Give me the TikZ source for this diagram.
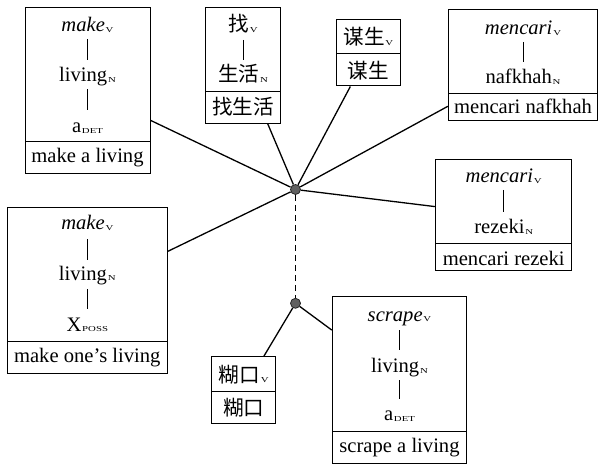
\documentclass[tikz,border=0pt]{standalone}
\usepackage{fontspec}
\usepackage{graphicx}
\setmainfont{Liberation Serif}
\newfontfamily\cjk{Noto Sans CJK SC}
\usetikzlibrary{fit}
\newcommand\lsb[1]{\kern0.4pt\raisebox{-0.4pt}{\scalebox{1}[0.7]{\fontsize{5.4}{6}\selectfont #1}}}
\begin{document}
\begin{tikzpicture}[x=0.5pt,y=-0.5pt,
  box/.style={draw, line width=0.5pt, inner sep=0pt},
  txt/.style={inner sep=0pt, anchor=base, font=\fontsize{10.3}{12}\selectfont},
  hub/.style={circle, draw=black!85, fill=black!62, line width=0.4pt, minimum size=5pt, inner sep=0pt},
  link/.style={line width=0.65pt},
  bar/.style={line width=0.5pt},
  div/.style={line width=0.5pt}]
\useasboundingbox (0,0) rectangle (598,464);

% Box 1: make a living
\node[box, fit={(25,7.3) (150,173.3)}] (b1) {};
\draw[div] (25,141.3) -- (150,141.3);
\node[txt] (b1v) at (87.5,31.7) {\textit{make}\lsb{V}};
\draw[bar] (87.5,39.3) -- (87.5,60);
\node[txt] (b1n) at (87.5,81.7) {living\lsb{N}};
\draw[bar] (87.5,89.3) -- (87.5,110);
\node[txt] (b1d) at (87.5,132.7) {a\lsb{DET}};
\node[txt] (b1t) at (87.5,163) {make a living};

% Box 2: 找生活
\node[box, fit={(205.5,7.3) (280.5,123.3)}] (b2) {};
\draw[div] (205.5,91.7) -- (280.5,91.7);
\node[txt] (b2v) at (243,32) {{\cjk 找}\lsb{V}};
\draw[bar] (243,40) -- (243,60);
\node[txt] (b2n) at (243,82) {{\cjk 生活}\lsb{N}};
\node[txt] (b2t) at (243,115) {\cjk 找生活};

% Box 3: 谋生
\node[box, fit={(336.7,19.3) (400,86)}] (b3) {};
\draw[div] (336.7,54) -- (400,54);
\node[txt] (b3v) at (368.3,45) {{\cjk 谋生}\lsb{V}};
\node[txt] (b3t) at (368.3,78.5) {\cjk 谋生};

% Box 4: mencari nafkhah
\node[box, fit={(448.3,10) (597.5,120.7)}] (b4) {};
\draw[div] (448.3,94) -- (597.5,94);
\node[txt] (b4v) at (523,34.3) {\textit{mencari}\lsb{V}};
\draw[bar] (523,42) -- (523,62);
\node[txt] (b4n) at (523,83.3) {nafkhah\lsb{N}};
\node[txt] (b4t) at (523,113.3) {mencari nafkhah};

% Box 5: mencari rezeki
\node[box, fit={(435.7,159.3) (571.7,270.7)}] (b5) {};
\draw[div] (435.7,244) -- (571.7,244);
\node[txt] (b5v) at (503.7,182.3) {\textit{mencari}\lsb{V}};
\draw[bar] (503.7,190) -- (503.7,212);
\node[txt] (b5n) at (503.7,233.3) {rezeki\lsb{N}};
\node[txt] (b5t) at (503.7,265) {mencari rezeki};

% Box 6: make one's living
\node[box, fit={(7.3,207.3) (167.3,373.3)}] (b6) {};
\draw[div] (7.3,341) -- (167.3,341);
\node[txt] (b6v) at (87.3,230) {\textit{make}\lsb{V}};
\draw[bar] (87.3,239.3) -- (87.3,260);
\node[txt] (b6n) at (87.3,280) {living\lsb{N}};
\draw[bar] (87.3,289.3) -- (87.3,309.3);
\node[txt] (b6d) at (87.3,331) {X\lsb{POSS}};
\node[txt] (b6t) at (87.3,362.3) {make one’s living};

% Box 7: scrape a living
\node[box, fit={(332.3,296.7) (466.7,463.3)}] (b7) {};
\draw[div] (332.3,431) -- (466.7,431);
\node[txt] (b7v) at (399.5,321) {\textit{scrape}\lsb{V}};
\draw[bar] (399.5,330) -- (399.5,350);
\node[txt] (b7n) at (399.5,372.5) {living\lsb{N}};
\draw[bar] (399.5,380) -- (399.5,399.3);
\node[txt] (b7d) at (399.5,420.5) {a\lsb{DET}};
\node[txt] (b7t) at (399.5,452.5) {scrape a living};

% Box 8: 糊口
\node[box, fit={(211.7,356.7) (275.7,423.3)}] (b8) {};
\draw[div] (211.7,391) -- (275.7,391);
\node[txt] (b8v) at (243.7,382) {{\cjk 糊口}\lsb{V}};
\node[txt] (b8t) at (243.7,415.5) {\cjk 糊口};

% Hubs
\node[hub] (h1) at (295.5,189.5) {};
\node[hub] (h2) at (295.5,303.3) {};

% Connectors
\draw[link] (h1) -- (b1);
\draw[link] (h1) -- (b2);
\draw[link] (h1) -- (b3);
\draw[link] (h1) -- (b4);
\draw[link] (h1) -- (b5);
\draw[link] (h1) -- (b6);
\draw[link, dash pattern=on 3pt off 2pt] (h1) -- (h2);
\draw[link] (h2) -- (b8);
\draw[link] (h2) -- (b7);
\end{tikzpicture}
\end{document}
